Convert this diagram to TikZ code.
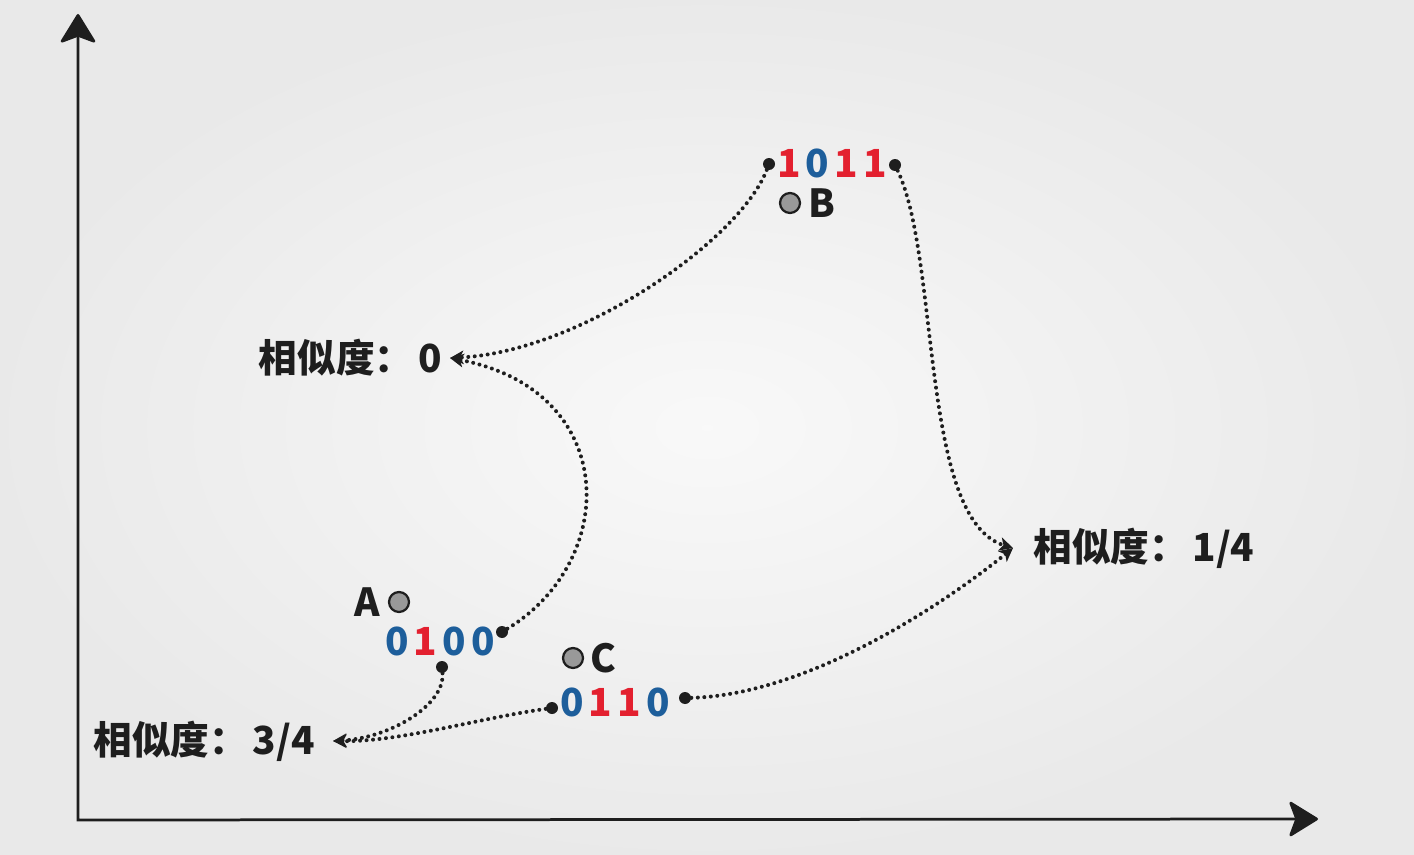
\documentclass[tikz,border=0pt]{standalone}
\usepackage{fontspec}
\newfontfamily\cjk{Noto Sans CJK SC}
\usetikzlibrary{arrows.meta,positioning}
\definecolor{bitred}{HTML}{E3202F}
\definecolor{bitblue}{HTML}{1D5E9B}
\definecolor{ink}{HTML}{1E1E1E}
\tikzset{nodb/.style={circle,fill=ink,inner sep=0pt,minimum size=2.4mm}}
\tikzset{nodg/.style={circle,draw=ink,line width=0.45mm,fill=gray!80,inner sep=0pt,minimum size=4mm}}
\tikzset{lbl/.style={font=\cjk\bfseries\fontsize{22}{26}\selectfont,text=ink,inner sep=0pt}}
\tikzset{lnk/.style={ink,line width=0.8mm,line cap=round,dash pattern=on 0pt off 1.3mm,
  -{Stealth[length=2.7mm,width=2.7mm,inset=0.7mm]}}}
\tikzset{axis/.style={ink,line width=0.55mm,
  {Stealth[length=6.2mm,width=7.6mm,inset=1.4mm,round]}-{Stealth[length=6.2mm,width=7.6mm,inset=1.4mm,round]}}}
\newcommand{\br}[1]{\textcolor{bitred}{#1}}
\newcommand{\bb}[1]{\textcolor{bitblue}{#1}}
\newcommand{\bk}{\kern1mm}

\begin{document}
\begin{tikzpicture}[x=0.02cm,y=-0.02cm]
\shade[inner color=gray!5,outer color=gray!17] (0,0) rectangle (1414,855);
\useasboundingbox (0,0) rectangle (1414,855);

% axes
\coordinate (o) at (78,820);
\coordinate (ytop) at (78,14);
\coordinate (xend) at (1318,819);
\draw[axis] (ytop) -- (o) -- (xend);

% B
\node [lbl] at (832,163) (n1011) {\br{1}\bk\bb{0}\bk\br{1}\bk\br{1}};
\node [nodb] at (769,164) (b1L) {};
\node [nodb] at (895,165) (b1R) {};
\node [nodg] at (790,203) (gb) {};
\node [lbl,right=1.5mm of gb] (tb) {B};

% A
\node [lbl] at (440,641) (n0100) {\bb{0}\bk\br{1}\bk\bb{0}\bk\bb{0}};
\node [nodb] at (502,632) (p0R) {};
\node [nodb] at (442,667) (p0B) {};
\node [nodg] at (399,602) (ga) {};
\node [lbl,left=1.6mm of ga] (ta) {A};

% C
\node [lbl] at (615,702) (n0110) {\bb{0}\bk\br{1}\bk\br{1}\bk\bb{0}};
\node [nodb] at (552,708) (c0L) {};
\node [nodb] at (685,698) (c0R) {};
\node [nodg] at (573,658) (gc) {};
\node [lbl,right=1.3mm of gc] (tc) {C};

% similarity labels
\node [lbl,anchor=east,inner xsep=1.6mm] at (450,358) (s0) {相似度：\hspace{.12em}0};
\node [lbl,anchor=east,inner xsep=3.6mm] at (333,741) (s34) {相似度：\hspace{.12em}3/4};
\node [lbl,anchor=west,inner xsep=4mm] at (1013,548) (s14) {相似度：\hspace{.12em}1/4};

% links
\draw[lnk] (b1L) .. controls (740,240) and (580,352) .. (s0.east);
\draw[lnk] (p0R) .. controls (620,560) and (620,390) .. (s0.east);
\draw[lnk] (b1R) .. controls (940,260) and (920,520) .. (s14.west);
\draw[lnk] (c0R) .. controls (800,695) and (930,615) .. (s14.west);
\draw[lnk] (p0B) .. controls (445,705) and (390,738) .. (s34.east);
\draw[lnk] (c0L) .. controls (480,718) and (400,742) .. (s34.east);
\end{tikzpicture}
\end{document}
